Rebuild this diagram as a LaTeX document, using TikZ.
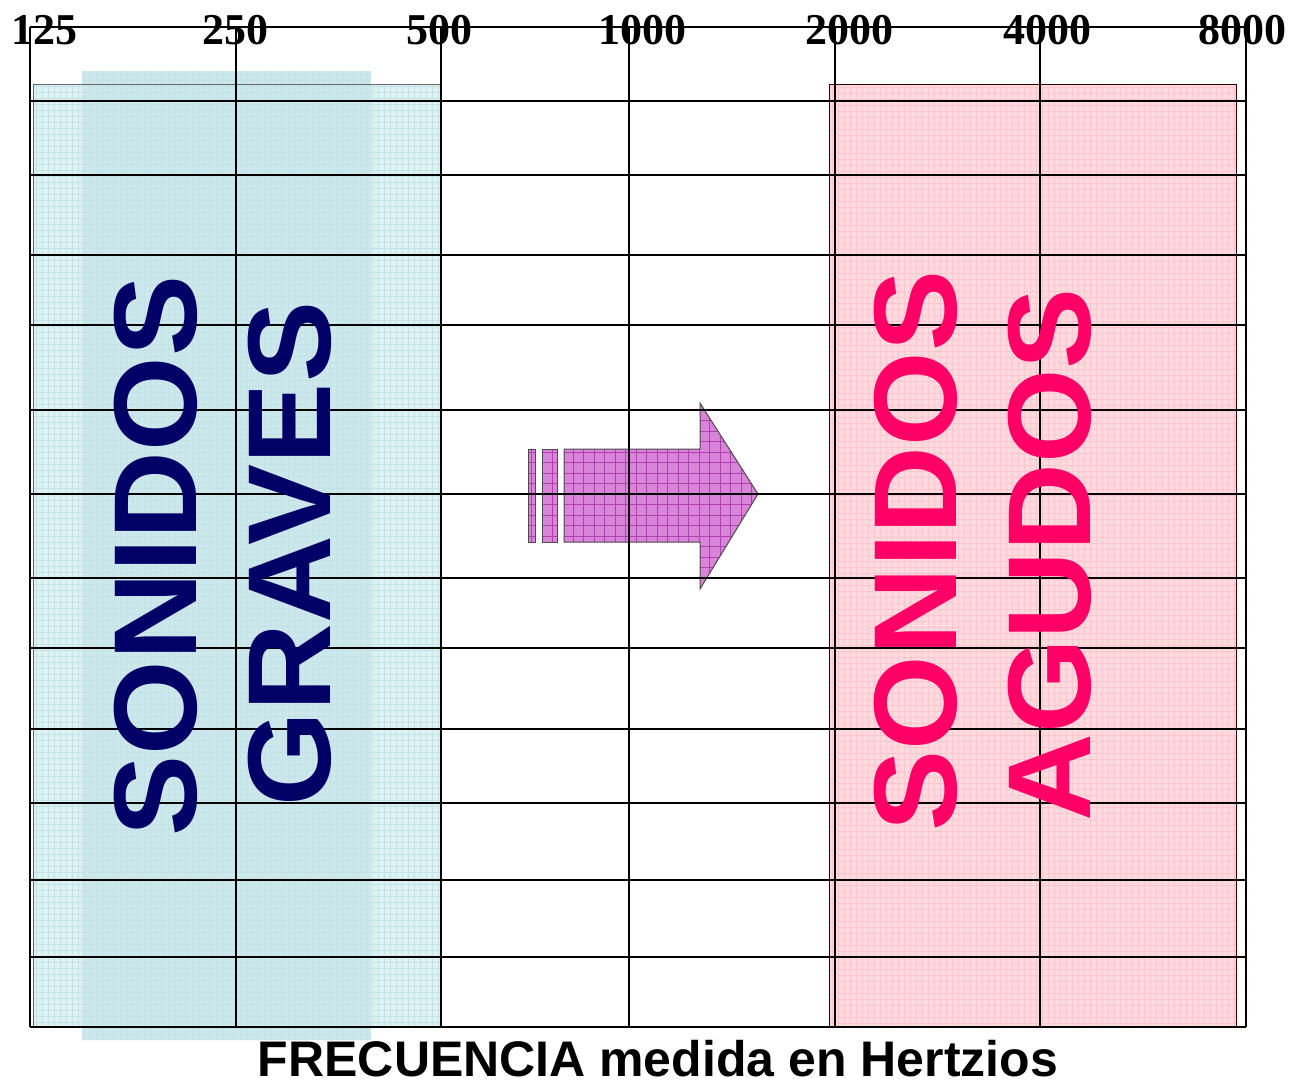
\documentclass[tikz,border=0pt]{standalone}
\usepackage{fontspec}
\setmainfont{Liberation Serif}
\setsansfont{Liberation Sans}
\definecolor{navytxt}{HTML}{000066}
\definecolor{pinktxt}{HTML}{FF0066}
\definecolor{bluefill}{HTML}{DDF2F3}
\definecolor{blueband}{HTML}{CDE8EC}
\definecolor{bluetex}{HTML}{C4E3E7}
\definecolor{bluetexB}{HTML}{BCDDE2}
\definecolor{pinkfill}{HTML}{FFDADE}
\definecolor{pinktex}{HTML}{FFC7CD}
\definecolor{arrowfill}{HTML}{D884D8}
\definecolor{arrowtex}{HTML}{B040B0}
\tikzset{
  gridline/.style={black, line width=0.7pt},
  bigtxt/.style={font=\sffamily\bfseries\fontsize{59}{59}\selectfont, inner sep=0pt, text depth=0pt, rotate=90},
  toplbl/.style={font=\rmfamily\bfseries\fontsize{22}{24}\selectfont, inner sep=0pt, anchor=base},
  bottomlbl/.style={font=\sffamily\bfseries\fontsize{25}{27}\selectfont, inner sep=0pt, anchor=base},
  texline/.style={line width=0.3pt}
}
\newcommand{\wide}[1]{\scalebox{1.03}[1]{#1}}
\begin{document}
\begin{tikzpicture}[x=0.5pt,y=-0.5pt]
\useasboundingbox[fill=white] (0,0) rectangle (1294,1085);

% blue region (sonidos graves)
\fill[bluefill] (33,84) rectangle (440,1026);
\fill[blueband] (82,71) rectangle (371,1040);
\begin{scope}
  \clip (33,84) rectangle (440,1026) (82,71) rectangle (371,1040);
  \foreach \x in {36,42,...,440} \draw[bluetex, texline] (\x,70) -- (\x,1041);
  \foreach \y in {74,80,...,1040} \draw[bluetex, texline] (33,\y) -- (440,\y);
\end{scope}
\draw[black!60, line width=0.4pt] (33,84) rectangle (440,1026);

% pink region (sonidos agudos)
\fill[pinkfill] (829,84) rectangle (1236,1027);
\begin{scope}
  \clip (829,84) rectangle (1236,1027);
  \foreach \x in {832,838,...,1236} \draw[pinktex, texline] (\x,84) -- (\x,1027);
  \foreach \y in {87,93,...,1027} \draw[pinktex, texline] (829,\y) -- (1236,\y);
\end{scope}
\draw[black!50!red!40!black, line width=0.4pt] (829,84) rectangle (1236,1027);

% arrow
\fill[arrowfill] (564,449) -- (700,449) -- (700,403) -- (758,494) -- (700,589) -- (700,542) -- (564,542) -- cycle;
\fill[arrowfill] (528,449) rectangle (535,542);
\fill[arrowfill] (542,449) rectangle (557,542);
\begin{scope}
  \clip (564,449) -- (700,449) -- (700,403) -- (758,494) -- (700,589) -- (700,542) -- (564,542) -- cycle
        (528,449) rectangle (535,542) (542,449) rectangle (557,542);
  \foreach \x in {531,541.5,...,760} \draw[arrowtex, line width=0.4pt] (\x,400) -- (\x,592);
  \foreach \y in {452,462.5,...,592} \draw[arrowtex, line width=0.4pt] (525,\y) -- (760,\y);
  \foreach \y in {441.5,431,...,400} \draw[arrowtex, line width=0.4pt] (525,\y) -- (760,\y);
\end{scope}
\draw[black!70, line width=0.5pt] (564,449) -- (700,449) -- (700,403) -- (758,494) -- (700,589) -- (700,542) -- (564,542) -- cycle;
\draw[black!70, line width=0.5pt] (528,449) rectangle (535,542);
\draw[black!70, line width=0.5pt] (542,449) rectangle (557,542);

% grid
\foreach \y in {101,175,255,325,410,494,578,648,729,803,880,957}
  \draw[gridline] (30,\y) -- (1246,\y);
\draw[gridline] (30,27) -- (1246,27);
\draw[gridline] (30,1027) -- (1246,1027);
\foreach \x in {30,236,441,629,835,1040,1246}
  \draw[gridline] (\x,27) -- (\x,1027);

% frequency labels
\node[toplbl] (f125) at (44,45) {125};
\node[toplbl] (f250) at (235,45) {250};
\node[toplbl] (f500) at (439,45) {500};
\node[toplbl] (f1000) at (642,45) {1000};
\node[toplbl] (f2000) at (849,45) {2000};
\node[toplbl] (f4000) at (1047,45) {4000};
\node[toplbl] (f8000) at (1242,45) {8000};

% big texts
\node[bigtxt, text=navytxt] (graves1) at (155,556) {\wide{SONIDOS}};
\node[bigtxt, text=navytxt] (graves2) at (289.5,554) {\wide{GRAVES}};
\node[bigtxt, text=pinktxt] (agudos1) at (915.5,551) {\wide{SONIDOS}};
\node[bigtxt, text=pinktxt] (agudos2) at (1049.5,555) {\wide{AGUDOS}};

% axis title
\node[bottomlbl] (title) at (658,1076) {FRECUENCIA medida en Hertzios};
\end{tikzpicture}
\end{document}
